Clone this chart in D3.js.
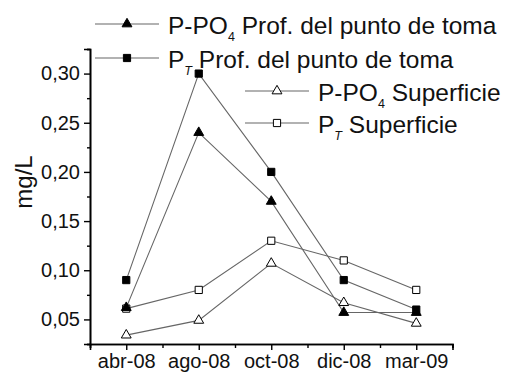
<!DOCTYPE html>
<html>
<head>
<meta charset="utf-8">
<script src="https://cdn.jsdelivr.net/npm/d3@7"></script>
<style>
  html, body { margin: 0; padding: 0; background: #fff; }
  svg { display: block; font-family: "Liberation Sans", Arial, sans-serif; }
</style>
</head>
<body>
<svg id="chart" width="510" height="372"></svg>
<script>
// Sampling dates
const months = ["abr-08", "ago-08", "oct-08", "dic-08", "mar-09"];
// Phosphorus concentrations (mg/L)
const ppo4Prof = [0.062, 0.240, 0.170, 0.057, 0.057];
const ptProf   = [0.090, 0.300, 0.200, 0.090, 0.060];
const ppo4Sup  = [0.034, 0.049, 0.107, 0.067, 0.046];
const ptSup    = [0.061, 0.080, 0.130, 0.110, 0.080];
// Y-axis ticks
const yMajor = [0.05, 0.10, 0.15, 0.20, 0.25, 0.30];
const yMinor = [0.025, 0.075, 0.125, 0.175, 0.225, 0.275, 0.325];

const svg = d3.select("#chart");
const x = d3.scaleLinear().domain([0.5, months.length + 0.5]).range([90, 452.5]);
const y = d3.scaleLinear().domain([0.025, 0.325]).range([344, 49]);

const fmt = v => d3.format(".2f")(v).replace(".", ",");

// Y axis
const yAxis = svg.append("g").attr("transform", "translate(90,0)");
yAxis.call(d3.axisLeft(y).tickValues(yMajor).tickSize(6).tickPadding(4).tickFormat(fmt));
yAxis.append("g").call(d3.axisLeft(y).tickValues(yMinor).tickSize(3).tickFormat(""));

// X axis
const xAxis = svg.append("g").attr("transform", "translate(0,344)");
xAxis.call(d3.axisBottom(x).tickValues(d3.range(1, months.length + 1)).tickSize(6).tickPadding(4)
  .tickFormat(d => months[d - 1]));
xAxis.append("g").call(d3.axisBottom(x).tickValues(d3.range(0.5, months.length + 1, 1)).tickSize(4).tickFormat(""));

svg.selectAll(".domain").attr("stroke", "#000").attr("stroke-width", 1.6);
svg.selectAll(".tick line").attr("stroke", "#000").attr("stroke-width", 1.4);
svg.selectAll(".tick text").attr("fill", "#111").attr("font-size", 20)
  .attr("font-family", "'Liberation Sans', Arial, sans-serif");

// Y label
svg.append("text")
  .attr("transform", "translate(32,182) rotate(-90)")
  .attr("text-anchor", "middle")
  .attr("font-size", 24).attr("fill", "#111")
  .text("mg/L");

const series = [
  { vals: ptSup,    shape: d3.symbolSquare,   size: 52, fill: "#fff" },
  { vals: ppo4Sup,  shape: d3.symbolTriangle, size: 42, fill: "#fff" },
  { vals: ppo4Prof, shape: d3.symbolTriangle, size: 42, fill: "#000" },
  { vals: ptProf,   shape: d3.symbolSquare,   size: 52, fill: "#000" }
];

const line = d3.line().x((d, i) => x(i + 1)).y(d => y(d));

series.forEach(s => {
  svg.append("path").attr("d", line(s.vals))
    .attr("fill", "none").attr("stroke", "#666").attr("stroke-width", 1.1);
});
series.forEach(s => {
  svg.append("g").selectAll("path").data(s.vals).join("path")
    .attr("transform", (d, i) => `translate(${x(i + 1)},${y(d)})`)
    .attr("d", d3.symbol(s.shape, s.size))
    .attr("fill", s.fill).attr("stroke", "#000").attr("stroke-width", 1);
});

// Legend
const legend = [
  { x0: 95,  y0: 24,  s: series[2], main: "P-PO", sub: "4", italic: false, rest: " Prof. del punto de toma" },
  { x0: 95,  y0: 58,  s: series[3], main: "P",    sub: "T", italic: true,  rest: " Prof. del punto de toma" },
  { x0: 245, y0: 91,  s: series[1], main: "P-PO", sub: "4", italic: false, rest: " Superficie" },
  { x0: 245, y0: 123, s: series[0], main: "P",    sub: "T", italic: true,  rest: " Superficie" }
];

legend.forEach(l => {
  const g = svg.append("g");
  g.append("line").attr("x1", l.x0).attr("x2", l.x0 + 64).attr("y1", l.y0).attr("y2", l.y0)
    .attr("stroke", "#666").attr("stroke-width", 1.1);
  g.append("path").attr("transform", `translate(${l.x0 + 32},${l.y0})`)
    .attr("d", d3.symbol(l.s.shape, l.s.size))
    .attr("fill", l.s.fill).attr("stroke", "#000").attr("stroke-width", 1);
  const t = g.append("text").attr("x", l.x0 + 73).attr("y", l.y0 + 10)
    .attr("font-size", 24.5).attr("fill", "#111");
  t.append("tspan").text(l.main);
  t.append("tspan").attr("dy", 7).attr("font-size", 12.5)
    .attr("font-style", l.italic ? "italic" : "normal").text(l.sub);
  t.append("tspan").attr("dy", -7).text(l.rest);
});
</script>
</body>
</html>
